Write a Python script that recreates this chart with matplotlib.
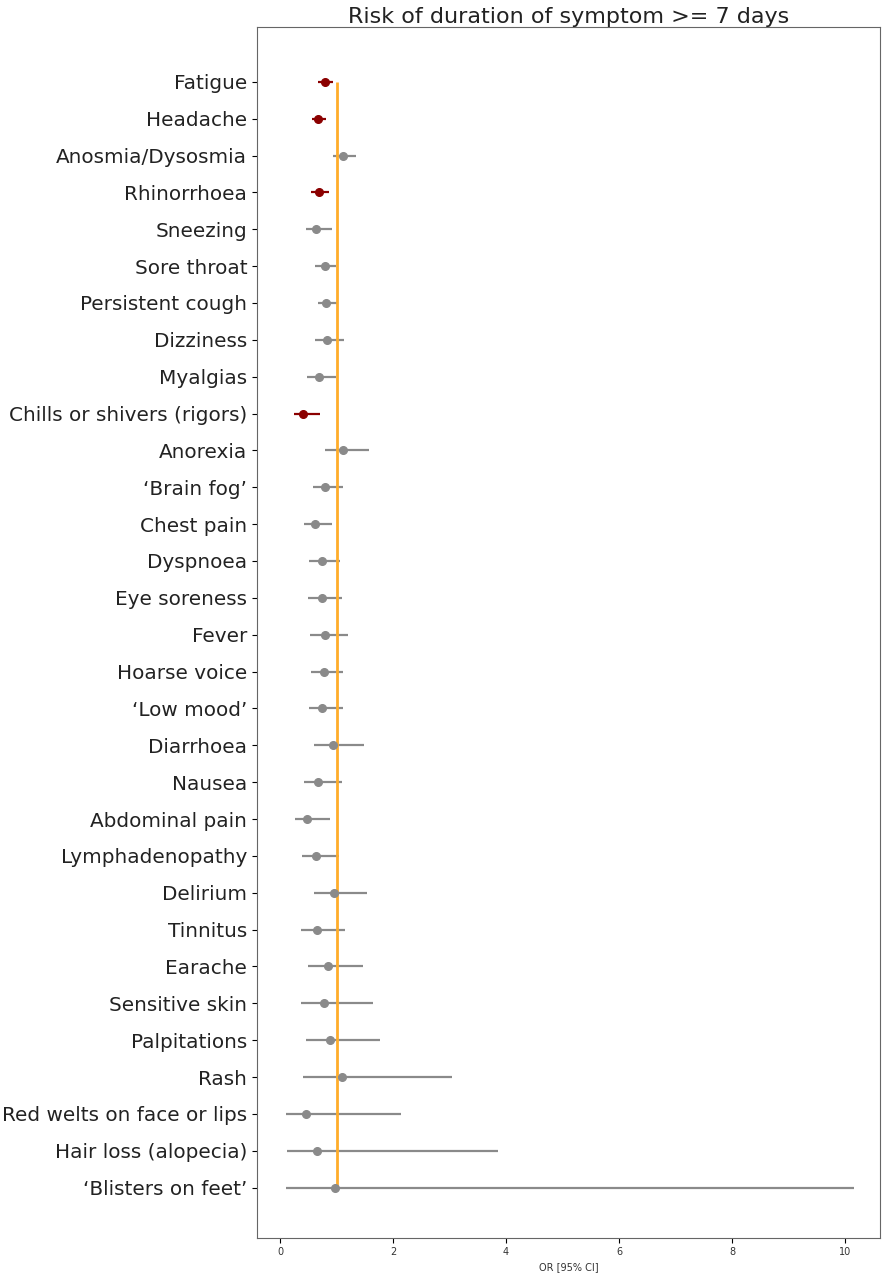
import matplotlib
matplotlib.use("Agg")
import matplotlib.pyplot as plt
import numpy as np

# symptoms, top to bottom
symptoms = ["Fatigue", "Headache", "Anosmia/Dysosmia", "Rhinorrhoea", "Sneezing",
            "Sore throat", "Persistent cough", "Dizziness", "Myalgias",
            "Chills or shivers (rigors)", "Anorexia", "\u2018Brain fog\u2019", "Chest pain",
            "Dyspnoea", "Eye soreness", "Fever", "Hoarse voice", "\u2018Low mood\u2019",
            "Diarrhoea", "Nausea", "Abdominal pain", "Lymphadenopathy", "Delirium",
            "Tinnitus", "Earache", "Sensitive skin", "Palpitations", "Rash",
            "Red welts on face or lips", "Hair loss (alopecia)", "\u2018Blisters on feet\u2019"]

odds_ratio = [0.79, 0.67, 1.12, 0.68, 0.64, 0.79, 0.82, 0.83, 0.68, 0.41, 1.11,
              0.80, 0.62, 0.74, 0.74, 0.79, 0.78, 0.75, 0.94, 0.67, 0.48, 0.64,
              0.95, 0.65, 0.84, 0.77, 0.88, 1.10, 0.45, 0.65, 0.97]
ci_low = [0.67, 0.57, 0.94, 0.55, 0.46, 0.62, 0.67, 0.62, 0.48, 0.24, 0.80,
          0.58, 0.43, 0.51, 0.50, 0.53, 0.55, 0.51, 0.60, 0.43, 0.27, 0.39,
          0.60, 0.37, 0.50, 0.37, 0.45, 0.41, 0.11, 0.12, 0.11]
ci_high = [0.93, 0.82, 1.35, 0.87, 0.91, 0.99, 1.01, 1.14, 0.99, 0.70, 1.57,
           1.11, 0.92, 1.06, 1.10, 1.21, 1.11, 1.11, 1.49, 1.09, 0.88, 1.05,
           1.53, 1.15, 1.47, 1.65, 1.77, 3.04, 2.14, 3.85, 10.15]
significant = ["Fatigue", "Headache", "Rhinorrhoea", "Chills or shivers (rigors)"]

n = len(symptoms)
ypos = np.arange(n)[::-1]

fig = plt.figure(figsize=(8.89, 12.8), dpi=100)
ax = fig.add_axes([0.289, 0.033, 0.701, 0.946])

for i in range(n):
    col = "#8b0000" if symptoms[i] in significant else "#8a8a8a"
    ax.errorbar(odds_ratio[i], ypos[i],
                xerr=[[odds_ratio[i] - ci_low[i]], [ci_high[i] - odds_ratio[i]]],
                fmt="o", color=col, ecolor=col, elinewidth=1.6, markersize=5.5)

ax.vlines(1, 0, n - 1, color="#ffad2a", linewidth=2)

ax.set_yticks(ypos)
ax.set_yticklabels(symptoms, fontsize=14.4, color="#222222")
ax.set_ylim(-1.36, n - 1 + 1.49)
ax.set_xlim(-0.41, 10.62)
ax.set_xticks([0, 2, 4, 6, 8, 10])
ax.tick_params(axis="x", labelsize=7, labelcolor="#333333")
ax.set_xlabel("OR [95% CI]", fontsize=7, labelpad=3, color="#333333")
ax.set_title("Risk of duration of symptom >= 7 days", fontsize=16, pad=3, color="#222222")
for s in ax.spines.values():
    s.set_color("#666666")

fig.savefig("out.png", dpi=100)
